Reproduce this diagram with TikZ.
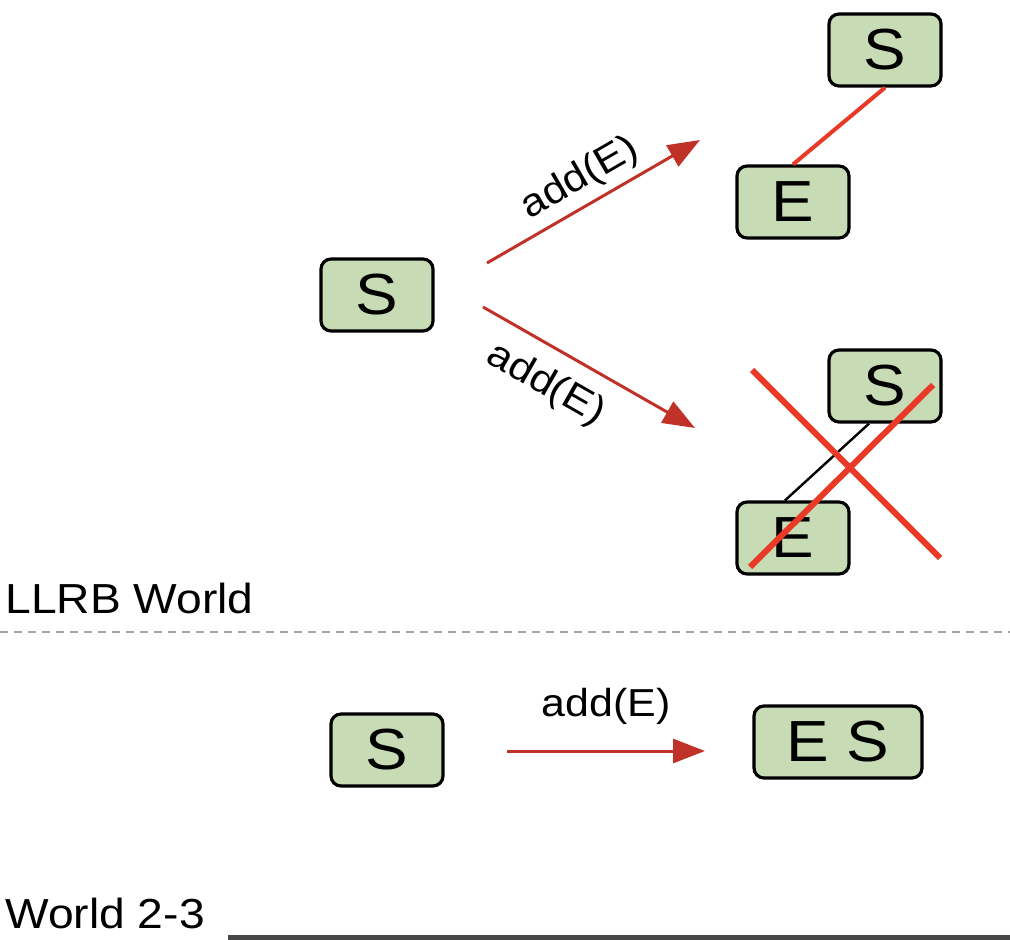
\documentclass[tikz,border=0pt]{standalone}
\usepackage{fontspec}
\setmainfont[FakeStretch=1.1]{Liberation Sans}
\usepackage{tikz}
\usetikzlibrary{arrows.meta, calc}
\usepackage{xcolor}
\definecolor{boxgreen}{RGB}{199,219,180}
\definecolor{arrowred}{RGB}{192,50,40}
\definecolor{crossred}{RGB}{232,58,38}
\definecolor{dashgray}{RGB}{165,165,165}
\tikzset{
	key/.style={draw=black, fill=boxgreen, line width=1.6pt, rounded corners=5pt,
		minimum width=56pt, minimum height=36pt, inner sep=0pt, font=\fontsize{29}{32}\selectfont},
	addarrow/.style={draw=arrowred, line width=1.5pt, -{Triangle[length=16pt, width=12pt]}},
	addlabel/.style={font=\fontsize{19.5}{22}\selectfont, sloped},
	worldlabel/.style={font=\fontsize{21}{24}\selectfont, anchor=base west, inner sep=0pt}
}
\begin{document}
\begin{tikzpicture}[x=0.5pt, y=-0.5pt]
	\useasboundingbox (0,0) rectangle (1010,940);
	\node [key] (S1) at (377,295) {S};
	\node [key] (S2) at (885,50) {S};
	\node [key] (E2) at (793,202) {E};
	\node [key] (S3) at (885,386) {S};
	\node [key] (E3) at (793,538) {E};
	\node [key] (S4) at (387,750) {S};
	\node [key, minimum width=84pt] (ES4) at (838,742) {E S};
	\coordinate (A1) at (487,263);
	\coordinate (B1) at (700,140);
	\coordinate (A2) at (483,307);
	\coordinate (B2) at (695,428);
	\coordinate (A3) at (507,751);
	\coordinate (B3) at (705,751);
	\draw [addarrow] (A1) -- (B1) node [addlabel, midway, above] {add(E)};
	\draw [addarrow] (A2) -- (B2) node [addlabel, pos=0.38, below=5pt] {add(E)};
	\draw [addarrow] (A3) -- (B3) node [addlabel, midway, above=9pt] {add(E)};
	\draw [crossred, line width=2pt] (E2.north) -- (S2.south);
	\draw [black, line width=1.2pt] ([xshift=-4pt]E3.north) -- ([xshift=-8pt]S3.south);
	\coordinate (X1) at (752,370);
	\coordinate (X2) at (940,558);
	\coordinate (X3) at (750,567);
	\coordinate (X4) at (933,385);
	\draw [crossred, line width=3pt] (X1) -- (X2);
	\draw [crossred, line width=3pt] (X3) -- (X4);
	\node [worldlabel] (llrb) at (5,613) {LLRB World};
	\draw [dashgray, line width=1pt, dash pattern=on 4pt off 3pt] (0,632) -- (1010,632);
	\node [worldlabel] (w23) at (5,928) {World 2-3};
	\draw [black!72, line width=3pt] (228,938) -- (1010,938);
\end{tikzpicture}
\end{document}
